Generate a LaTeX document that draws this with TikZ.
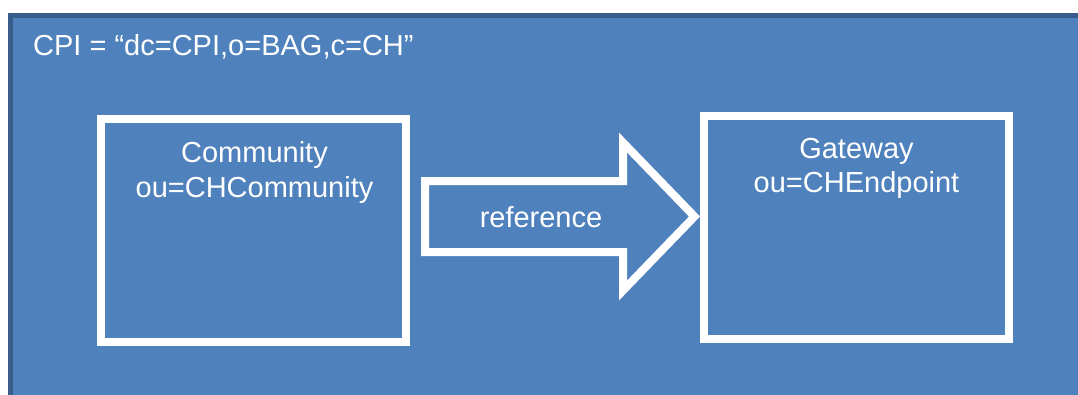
\documentclass[tikz,border=0pt]{standalone}
\usepackage{fontspec}
\setmainfont{Liberation Sans}
\usepackage{tikz}
\definecolor{slideblue}{HTML}{4F81BD}
\definecolor{slideedge}{HTML}{385D8A}

\begin{document}
\begin{tikzpicture}[x=1pt,y=-1pt,
    box/.style={draw=white,line width=8pt,minimum width=305pt,minimum height=223pt,inner sep=0pt},
    lbl/.style={text=white,anchor=base,inner sep=0pt,font=\fontsize{29}{35}\selectfont}]
    \useasboundingbox (0,0) rectangle (1078,394);
    \fill[white] (0,0) rectangle (1078,394);
    \clip (0,0) rectangle (1078,394);
    \draw[slideedge,fill=slideblue,line width=5pt] (10.5,15) rectangle (1100,420);
    \node[lbl,anchor=base west] (cpi) at (33,55) {CPI = “dc=CPI,o=BAG,c=CH”};
    % the two entries
    \node[box] (community) at (253.5,230.5) {};
    \node[box] (gateway) at (856.5,227.5) {};
    \node[lbl] (commname) at (254.5,162) {Community};
    \node[lbl] (commou) at (254.5,197) {ou=CHCommunity};
    \node[lbl] (gatename) at (856.5,158) {Gateway};
    \node[lbl] (gateou) at (856.5,192) {ou=CHEndpoint};
    % block arrow in between
    \draw[white,line width=8pt,miter limit=10] (425,181) -- (623,181) -- (623,142.5)
      -- (694.5,216.5) -- (623,290.5) -- (623,252) -- (425,252) -- cycle;
    \node[lbl] (reftext) at (541,227) {reference};
\end{tikzpicture}
\end{document}
